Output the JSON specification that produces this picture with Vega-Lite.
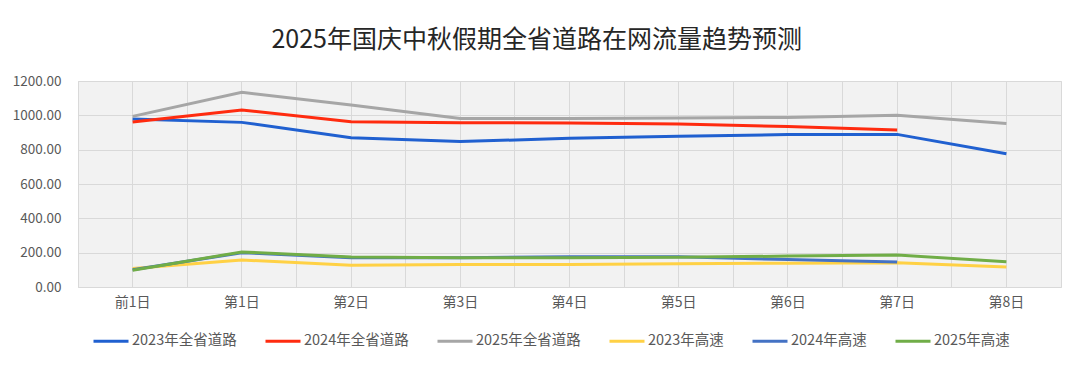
{
  "$schema": "https://vega.github.io/schema/vega-lite/v6.json",
  "width": 983,
  "height": 206,
  "padding": {"left": 12, "right": 18, "top": 28, "bottom": 10},
  "background": "white",
  "title": {
    "text": "2025年国庆中秋假期全省道路在网流量趋势预测",
    "font": "Noto Sans CJK SC",
    "fontSize": 25,
    "fontWeight": "normal",
    "color": "#262626",
    "anchor": "middle",
    "frame": "bounds",
    "offset": 21
  },
  "config": {
    "font": "Noto Sans CJK SC",
    "view": {"fill": "#f2f2f2", "stroke": "#d9d9d9"}
  },
  "data": {
    "values": [
      {"series": "2023年全省道路", "day": "前1日", "v": 979},
      {"series": "2023年全省道路", "day": "第1日", "v": 959},
      {"series": "2023年全省道路", "day": "第2日", "v": 870},
      {"series": "2023年全省道路", "day": "第3日", "v": 847},
      {"series": "2023年全省道路", "day": "第4日", "v": 866},
      {"series": "2023年全省道路", "day": "第5日", "v": 878},
      {"series": "2023年全省道路", "day": "第6日", "v": 888},
      {"series": "2023年全省道路", "day": "第7日", "v": 889},
      {"series": "2023年全省道路", "day": "第8日", "v": 776},
      {"series": "2024年全省道路", "day": "前1日", "v": 961},
      {"series": "2024年全省道路", "day": "第1日", "v": 1031},
      {"series": "2024年全省道路", "day": "第2日", "v": 963},
      {"series": "2024年全省道路", "day": "第3日", "v": 957},
      {"series": "2024年全省道路", "day": "第4日", "v": 955},
      {"series": "2024年全省道路", "day": "第5日", "v": 950},
      {"series": "2024年全省道路", "day": "第6日", "v": 935},
      {"series": "2024年全省道路", "day": "第7日", "v": 915},
      {"series": "2025年全省道路", "day": "前1日", "v": 994},
      {"series": "2025年全省道路", "day": "第1日", "v": 1134},
      {"series": "2025年全省道路", "day": "第2日", "v": 1060},
      {"series": "2025年全省道路", "day": "第3日", "v": 981},
      {"series": "2025年全省道路", "day": "第4日", "v": 982},
      {"series": "2025年全省道路", "day": "第5日", "v": 984},
      {"series": "2025年全省道路", "day": "第6日", "v": 988},
      {"series": "2025年全省道路", "day": "第7日", "v": 1000},
      {"series": "2025年全省道路", "day": "第8日", "v": 953},
      {"series": "2023年高速", "day": "前1日", "v": 108},
      {"series": "2023年高速", "day": "第1日", "v": 157},
      {"series": "2023年高速", "day": "第2日", "v": 127},
      {"series": "2023年高速", "day": "第3日", "v": 131},
      {"series": "2023年高速", "day": "第4日", "v": 131},
      {"series": "2023年高速", "day": "第5日", "v": 135},
      {"series": "2023年高速", "day": "第6日", "v": 139},
      {"series": "2023年高速", "day": "第7日", "v": 141},
      {"series": "2023年高速", "day": "第8日", "v": 116},
      {"series": "2024年高速", "day": "前1日", "v": 100},
      {"series": "2024年高速", "day": "第1日", "v": 200},
      {"series": "2024年高速", "day": "第2日", "v": 171},
      {"series": "2024年高速", "day": "第3日", "v": 170},
      {"series": "2024年高速", "day": "第4日", "v": 176},
      {"series": "2024年高速", "day": "第5日", "v": 176},
      {"series": "2024年高速", "day": "第6日", "v": 160},
      {"series": "2024年高速", "day": "第7日", "v": 146},
      {"series": "2025年高速", "day": "前1日", "v": 98},
      {"series": "2025年高速", "day": "第1日", "v": 204},
      {"series": "2025年高速", "day": "第2日", "v": 175},
      {"series": "2025年高速", "day": "第3日", "v": 171},
      {"series": "2025年高速", "day": "第4日", "v": 171},
      {"series": "2025年高速", "day": "第5日", "v": 173},
      {"series": "2025年高速", "day": "第6日", "v": 180},
      {"series": "2025年高速", "day": "第7日", "v": 186},
      {"series": "2025年高速", "day": "第8日", "v": 147}
    ]
  },
  "resolve": {"axis": {"x": "independent"}},
  "layer": [
    {
      "mark": {"type": "tick", "opacity": 0},
      "encoding": {
        "x": {
          "field": "day", "type": "ordinal",
          "sort": ["前1日", "第1日", "第2日", "第3日", "第4日", "第5日", "第6日", "第7日", "第8日"],
          "scale": {"type": "band", "paddingInner": 0, "paddingOuter": 0},
          "axis": {"orient": "top", "title": null, "labels": false, "ticks": false, "domain": false, "grid": true, "gridColor": "#d9d9d9", "bandPosition": 0}
        }
      }
    },
    {
      "mark": {"type": "line", "strokeWidth": 3},
      "encoding": {
        "x": {
          "field": "day", "type": "ordinal",
          "sort": ["前1日", "第1日", "第2日", "第3日", "第4日", "第5日", "第6日", "第7日", "第8日"],
          "bandPosition": 0.5,
          "scale": {"type": "band", "paddingInner": 0, "paddingOuter": 0},
          "axis": {"title": null, "labelAngle": 0, "labelColor": "#595959", "labelFontSize": 14, "labelPadding": 8, "ticks": false, "domain": false, "grid": true, "gridColor": "#d9d9d9", "bandPosition": 0.5}
        },
        "y": {
          "field": "v", "type": "quantitative",
          "scale": {"domain": [0, 1200]},
          "axis": {"title": null, "values": [0, 200, 400, 600, 800, 1000, 1200], "format": ".2f", "labelColor": "#595959", "labelFontSize": 13.5, "labelPadding": 17, "ticks": false, "domain": false, "gridColor": "#d9d9d9"}
        },
        "color": {
          "field": "series", "type": "nominal",
          "scale": {
            "domain": ["2023年全省道路", "2024年全省道路", "2025年全省道路", "2023年高速", "2024年高速", "2025年高速"],
            "range": ["#2060d0", "#ff2b0f", "#a6a6a6", "#ffd145", "#4472c4", "#70ad47"]
          },
          "legend": {
            "title": null, "orient": "none", "direction": "horizontal", "columns": 6,
            "legendX": 14, "legendY": 241,
            "symbolType": "stroke", "symbolSize": 1225, "symbolStrokeWidth": 3,
            "labelFontSize": 14.5, "labelColor": "#595959", "labelOffset": 2,
            "columnPadding": 22
          }
        }
      }
    }
  ]
}
